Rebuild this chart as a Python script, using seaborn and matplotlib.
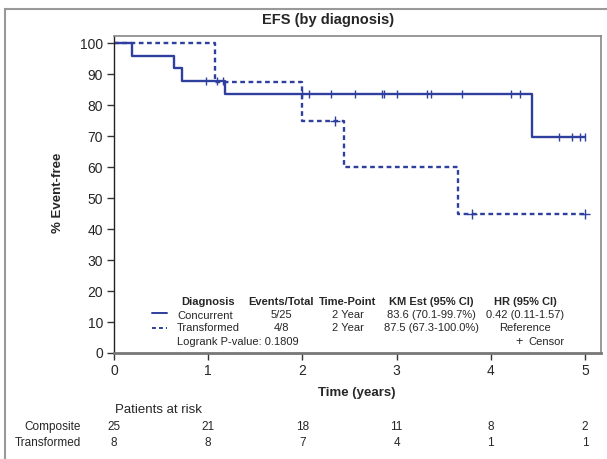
import matplotlib
matplotlib.use("Agg")
import matplotlib.pyplot as plt
import seaborn as sns
import pandas as pd
from matplotlib.patches import Rectangle
from matplotlib.lines import Line2D

sns.set_style("ticks")
plt.rcParams['font.family'] = ['Liberation Sans', 'DejaVu Sans']

# ---- data ----
conc_times = [0.0, 0.19, 0.64, 0.72, 1.18, 4.44, 5.0]
conc_surv = [100, 96, 92, 88, 83.6, 69.7, 69.7]
conc_cens_t = [0.98, 1.09, 1.16, 2.0, 2.07, 2.30, 2.56, 2.85, 2.87, 3.0, 3.32, 3.36,
               3.69, 4.21, 4.31, 4.72, 4.86, 4.95, 5.0]
trans_times = [0.0, 1.07, 2.0, 2.44, 3.65, 5.0]
trans_surv = [100, 87.5, 75, 60, 45, 45]
trans_cens_t = [2.35, 3.80, 5.0]

risk_times = [0, 1, 2, 3, 4, 5]
risk_comp = [25, 21, 18, 11, 8, 2]
risk_trans = [8, 8, 7, 4, 1, 1]

header = ["Diagnosis", "Events/Total", "Time-Point", "KM Est (95% CI)", "HR (95% CI)"]
row_conc = ["Concurrent", "5/25", "2 Year", "83.6 (70.1-99.7%)", "0.42 (0.11-1.57)"]
row_trans = ["Transformed", "4/8", "2 Year", "87.5 (67.3-100.0%)", "Reference"]
pval_text = "Logrank P-value: 0.1809"

def surv_at(times, surv, t):
    v = surv[0]
    for tt, s in zip(times, surv):
        if tt <= t:
            v = s
    return v

BLUE = "#2E3F9E"
W, H = 607, 459
fig = plt.figure(figsize=(W / 100, H / 100), dpi=100)

def fx(x):
    return x / W

def fy(y):
    return 1 - y / H

# outer frame
fig.patches.append(Rectangle((fx(5), fy(470)), 1.2, (470 - 9) / H, transform=fig.transFigure,
                             fill=False, edgecolor="#999999", lw=1.5))

ax = fig.add_axes([fx(114), fy(353), fx(601) - fx(114), (353 - 36) / H])

df_c = pd.DataFrame({"t": conc_times, "s": conc_surv})
df_t = pd.DataFrame({"t": trans_times, "s": trans_surv})
sns.lineplot(data=df_c, x="t", y="s", ax=ax, drawstyle="steps-post", color=BLUE, lw=1.7,
             estimator=None)
sns.lineplot(data=df_t, x="t", y="s", ax=ax, drawstyle="steps-post", color=BLUE, lw=1.7,
             estimator=None, linestyle=(0, (2.0, 1.5)))

cc = pd.DataFrame({"t": conc_cens_t, "s": [surv_at(conc_times, conc_surv, t) for t in conc_cens_t]})
ct = pd.DataFrame({"t": trans_cens_t, "s": [surv_at(trans_times, trans_surv, t) for t in trans_cens_t]})
sns.scatterplot(data=cc, x="t", y="s", ax=ax, marker="|", s=40, color=BLUE, linewidth=1.0)
sns.scatterplot(data=ct, x="t", y="s", ax=ax, marker="+", s=45, color=BLUE, linewidth=1.0)

ax.set_xlim(0, 5.17)
ax.set_ylim(0, 102.4)
ax.set_xticks(risk_times)
ax.set_yticks(range(0, 101, 10))
ax.tick_params(axis="both", labelsize=10, length=5, width=1, color="#333333", pad=3)
ax.set_xlabel("")
ax.set_ylabel("")
for side in ["top", "right"]:
    ax.spines[side].set_color("#888888")
    ax.spines[side].set_linewidth(1.2)
ax.spines["left"].set_color("#222222")
ax.spines["left"].set_linewidth(1.0)
ax.spines["bottom"].set_color("#777777")
ax.spines["bottom"].set_linewidth(2.0)

fig.text(fx(328), fy(20), "EFS (by diagnosis)", ha="center", va="center", fontsize=10.5,
         fontweight="bold")
fig.text(fx(357), fy(393), "Time (years)", ha="center", va="center", fontsize=9.5,
         fontweight="bold")
fig.text(fx(58), fy(193), "% Event-free", ha="center", va="center", rotation=90,
         fontsize=9.5, fontweight="bold")

# stats table
col_x = [208, 281, 348, 431, 525]
for x, h in zip(col_x, header):
    fig.text(fx(x), fy(302), h, ha="center", va="center", fontsize=8, fontweight="bold")
fig.text(fx(177), fy(316), row_conc[0], ha="left", va="center", fontsize=8)
fig.text(fx(177), fy(328), row_trans[0], ha="left", va="center", fontsize=8)
for x, v in zip(col_x[1:], row_conc[1:]):
    fig.text(fx(x), fy(315), v, ha="center", va="center", fontsize=8)
for x, v in zip(col_x[1:], row_trans[1:]):
    fig.text(fx(x), fy(328), v, ha="center", va="center", fontsize=8)
fig.text(fx(177), fy(342), pval_text, ha="left", va="center", fontsize=8)
fig.lines.append(Line2D([fx(152), fx(167)], [fy(313), fy(313)], transform=fig.transFigure,
                        color=BLUE, lw=1.4))
fig.lines.append(Line2D([fx(152), fx(167)], [fy(328), fy(328)], transform=fig.transFigure,
                        color=BLUE, lw=1.4, linestyle=(0, (2, 1.6))))
fig.text(fx(519), fy(342), "+", ha="center", va="center", fontsize=9)
fig.text(fx(528), fy(342), "Censor", ha="left", va="center", fontsize=8)

# patients at risk
fig.text(fx(115), fy(410), "Patients at risk", ha="left", va="center", fontsize=9.5)
fig.text(fx(81), fy(427), "Composite", ha="right", va="center", fontsize=8.5)
fig.text(fx(81), fy(443), "Transformed", ha="right", va="center", fontsize=8.5)
for t, a, b in zip(risk_times, risk_comp, risk_trans):
    xpix = ax.transData.transform((t, 0))[0]
    xf = xpix / (W)
    fig.text(xf, fy(427), str(a), ha="center", va="center", fontsize=8.5)
    fig.text(xf, fy(443), str(b), ha="center", va="center", fontsize=8.5)

fig.savefig("out.png", dpi=100)
